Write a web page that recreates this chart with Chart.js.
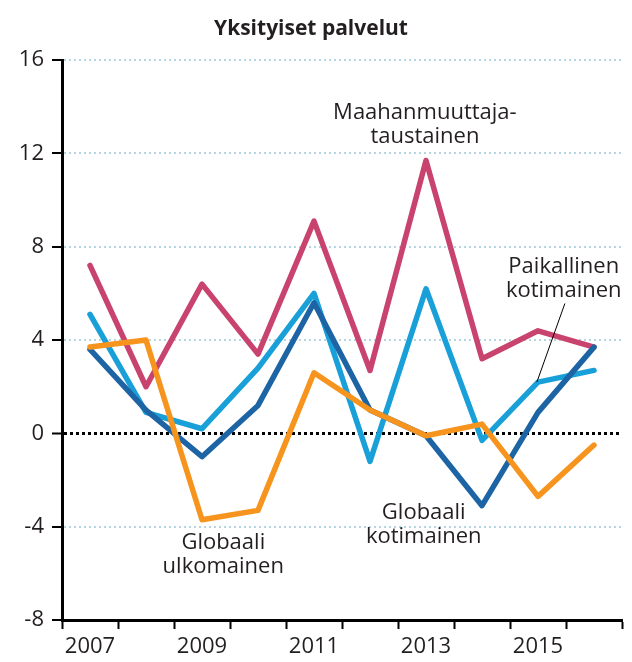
<!DOCTYPE html>
<html>
<head>
<meta charset="utf-8">
<script src="https://cdn.jsdelivr.net/npm/chart.js@4"></script>
<style>
  body { margin: 0; background: #fff; }
  #wrap { width: 632px; height: 662px; }
</style>
</head>
<body>
<div id="wrap"><canvas id="chart"></canvas></div>
<script>
// years on the x axis
let years = ["2007", "2008", "2009", "2010", "2011", "2012", "2013", "2014", "2015", "2016"];

// series
let globaaliUlkomainen = [3.7, 4.0, -3.7, -3.3, 2.6, 1.0, -0.1, 0.4, -2.7, -0.5];
let globaaliKotimainen = [3.6, 1.0, -1.0, 1.2, 5.6, 1.0, -0.1, -3.1, 0.9, 3.7];
let paikallinenKotimainen = [5.1, 0.9, 0.2, 2.8, 6.0, -1.2, 6.2, -0.3, 2.2, 2.7];
let maahanmuuttajataustainen = [7.2, 2.0, 6.4, 3.4, 9.1, 2.7, 11.7, 3.2, 4.4, 3.7];

let yTicks = [-8, -4, 0, 4, 8, 12, 16];

let textColor = "#231f20";
let fontFamily = "'Open Sans', sans-serif";

// in-chart labels, placed in data units (category index, value)
let notes = [
  { lines: ["Maahanmuuttaja-", "taustainen"], x: 5.98, y: 13.76 },
  { lines: ["Paikallinen", "kotimainen"], x: 8.46, y: 7.16 },
  { lines: ["Globaali", "ulkomainen"], x: 2.38, y: -4.7 },
  { lines: ["Globaali", "kotimainen"], x: 5.96, y: -3.38 }
];
let leader = { x1: 8.48, y1: 5.57, x2: 7.98, y2: 2.2 };

let notesPlugin = {
  id: "notes",
  afterDatasetsDraw(chart) {
    let ctx = chart.ctx;
    let xs = chart.scales.x;
    let ys = chart.scales.y;
    ctx.save();
    ctx.fillStyle = textColor;
    ctx.font = "22px " + fontFamily;
    ctx.textAlign = "center";
    ctx.textBaseline = "middle";
    notes.forEach(function (n) {
      let px = xs.getPixelForValue(n.x);
      let py = ys.getPixelForValue(n.y);
      n.lines.forEach(function (t, i) {
        ctx.fillText(t, px, py + i * 24);
      });
    });
    ctx.strokeStyle = "#000";
    ctx.lineWidth = 1;
    ctx.beginPath();
    ctx.moveTo(xs.getPixelForValue(leader.x1), ys.getPixelForValue(leader.y1));
    ctx.lineTo(xs.getPixelForValue(leader.x2), ys.getPixelForValue(leader.y2));
    ctx.stroke();
    ctx.restore();
  }
};

function line(label, data, color) {
  return {
    label: label,
    data: data,
    borderColor: color,
    backgroundColor: color,
    borderWidth: 5.5,
    pointRadius: 0,
    tension: 0,
    fill: false,
    borderJoinStyle: "round",
    borderCapStyle: "round"
  };
}

new Chart(document.getElementById("chart"), {
  type: "line",
  data: {
    labels: years,
    datasets: [
      line("Globaali ulkomainen", globaaliUlkomainen, "#f7941e"),
      line("Globaali kotimainen", globaaliKotimainen, "#1d64a5"),
      line("Paikallinen kotimainen", paikallinenKotimainen, "#1aa0d9"),
      line("Maahanmuuttajataustainen", maahanmuuttajataustainen, "#c9436f")
    ]
  },
  options: {
    responsive: true,
    maintainAspectRatio: false,
    animation: false,
    layout: { padding: { left: 0, right: 10, top: 0, bottom: 0 } },
    plugins: {
      legend: { display: false },
      tooltip: { enabled: false },
      title: {
        display: true,
        text: "Yksityiset palvelut",
        color: textColor,
        font: { family: fontFamily, size: 21, weight: "bold" },
        padding: { top: 16, bottom: 19 }
      }
    },
    scales: {
      x: {
        type: "category",
        offset: true,
        grid: {
          offset: true,
          drawOnChartArea: false,
          drawTicks: true,
          tickLength: 9,
          tickWidth: 2,
          tickColor: "#000"
        },
        border: { display: true, color: "#000", width: 3 },
        ticks: {
          autoSkip: false,
          maxRotation: 0,
          padding: 5,
          color: textColor,
          font: { family: fontFamily, size: 22 },
          callback: function (value, index) {
            return index % 2 === 0 ? years[index] : "";
          }
        },
        afterFit: function (scale) { scale.height = 42; }
      },
      y: {
        min: yTicks[0],
        max: yTicks[yTicks.length - 1],
        afterBuildTicks: function (scale) {
          scale.ticks = yTicks.map(function (v) { return { value: v }; });
        },
        grid: {
          drawTicks: true,
          tickLength: 10,
          tickWidth: 2,
          tickColor: "#000",
          color: function (c) {
            return c.tick && c.tick.value === 0 ? "#000" : "#b4d5e1";
          },
          lineWidth: function (c) {
            if (!c.tick) return 0;
            if (c.tick.value === -8) return 0;
            return c.tick.value === 0 ? 3 : 2;
          }
        },
        border: {
          display: true,
          color: "#000",
          width: 3,
          dash: function (c) {
            return c.tick && c.tick.value === 0 ? [3, 3] : [2, 3];
          }
        },
        ticks: {
          padding: 8,
          color: textColor,
          font: { family: fontFamily, size: 22 },
          callback: function (value) { return value; }
        },
        afterFit: function (scale) { scale.width = 62; }
      }
    }
  },
  plugins: [notesPlugin]
});
</script>
</body>
</html>
